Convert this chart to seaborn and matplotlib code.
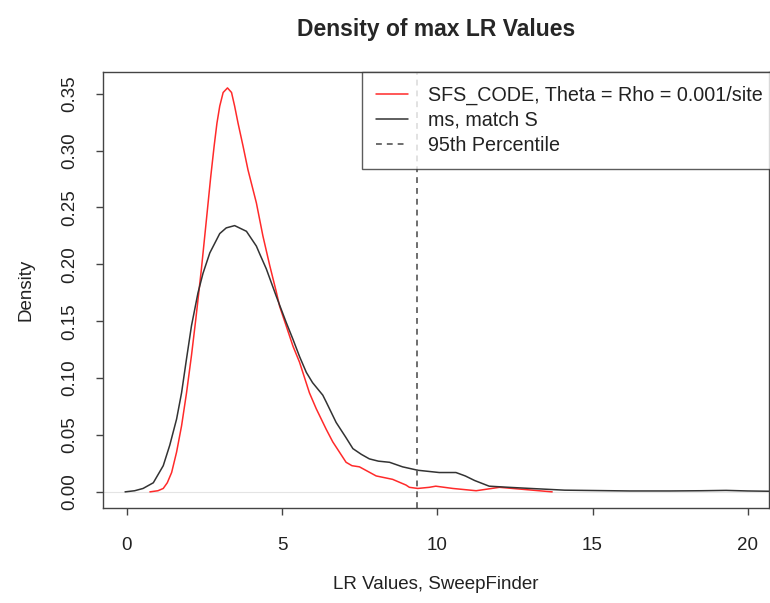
import matplotlib
matplotlib.use('Agg')
import matplotlib.pyplot as plt
from matplotlib.lines import Line2D
import seaborn as sns

# density curves
sfs_x = [0.74, 1.0, 1.17, 1.30, 1.44, 1.60, 1.76, 1.92, 2.08, 2.22, 2.40, 2.56, 2.70,
         2.81, 2.90, 2.99, 3.10, 3.24, 3.37, 3.47, 3.58, 3.74, 3.90, 4.17, 4.38, 4.49,
         4.60, 4.81, 4.92, 5.08, 5.35, 5.56, 5.88, 6.1, 6.42, 6.63, 7.06, 7.25, 7.49,
         8.03, 8.56, 8.99, 9.1, 9.37, 9.74, 9.95, 10.5, 11.25, 12.0, 13.7]
sfs_y = [0.000, 0.001, 0.003, 0.008, 0.017, 0.035, 0.058, 0.087, 0.120, 0.152, 0.196,
         0.239, 0.277, 0.304, 0.324, 0.339, 0.351, 0.355, 0.351, 0.339, 0.324, 0.304,
         0.283, 0.254, 0.225, 0.212, 0.199, 0.176, 0.163, 0.150, 0.128, 0.114, 0.087,
         0.073, 0.055, 0.044, 0.026, 0.023, 0.022, 0.014, 0.011, 0.006, 0.004, 0.003,
         0.004, 0.005, 0.003, 0.001, 0.004, 0.000]

ms_x = [-0.06, 0.25, 0.52, 0.85, 1.17, 1.38, 1.60, 1.76, 1.92, 2.08, 2.29, 2.45, 2.67,
        2.99, 3.20, 3.47, 3.85, 4.17, 4.28, 4.49, 4.81, 5.13, 5.35, 5.56, 5.78, 5.98,
        6.31, 6.42, 6.74, 7.05, 7.28, 7.55, 7.81, 8.10, 8.46, 8.88, 9.37, 10.06, 10.6,
        10.9, 11.2, 11.67, 12.3, 13.0, 14.1, 15.0, 16.2, 17.5, 18.5, 19.3, 20.0, 20.8]
ms_y = [0.000, 0.001, 0.003, 0.008, 0.023, 0.041, 0.064, 0.087, 0.117, 0.146, 0.175,
        0.192, 0.210, 0.227, 0.232, 0.234, 0.229, 0.216, 0.209, 0.196, 0.172, 0.149,
        0.134, 0.119, 0.105, 0.096, 0.085, 0.079, 0.061, 0.048, 0.038, 0.033, 0.029,
        0.027, 0.026, 0.022, 0.019, 0.017, 0.017, 0.014, 0.010, 0.005, 0.004, 0.003,
        0.0015, 0.0012, 0.0008, 0.0008, 0.0010, 0.0013, 0.0008, 0.0005]

percentile_95 = 9.36

x_ticks = [0, 5, 10, 15, 20]
y_ticks = [0.00, 0.05, 0.10, 0.15, 0.20, 0.25, 0.30, 0.35]

labels = ['SFS_CODE, Theta = Rho = 0.001/site', 'ms, match S', '95th Percentile']

sns.set_style('ticks')
plt.rcParams['font.family'] = ['Liberation Sans', 'DejaVu Sans']
plt.rcParams['font.size'] = 13.5

fig = plt.figure(figsize=(7.7, 6.03), dpi=100)
ax = fig.add_axes([0.1338, 0.1575, 0.8655, 0.7231])

ax.axhline(0, color='#e4e4e4', lw=0.8, zorder=1)
sns.lineplot(x=sfs_x, y=sfs_y, color='#ff2a2a', lw=1.1, estimator=None, sort=False, ax=ax)
sns.lineplot(x=ms_x, y=ms_y, color='#333333', lw=1.1, estimator=None, sort=False, ax=ax)
ax.axvline(percentile_95, color='#555555', lw=1.2, linestyle=(0, (3.5, 3.0)))

ax.set_xlim(-0.77, 20.7)
ax.set_ylim(-0.0142, 0.369)
ax.set_xticks(x_ticks)
ax.set_xticklabels([str(t) for t in x_ticks])
ax.set_yticks(y_ticks)
ax.set_yticklabels([f'{t:.2f}' for t in y_ticks], rotation=90, va='center')

for s in ax.spines.values():
    s.set_color('#444444')
    s.set_linewidth(1.0)
ax.tick_params(axis='both', length=5, width=1, color='#444444', labelsize=13.5,
               labelcolor='#222222')
ax.tick_params(axis='x', pad=16)
ax.tick_params(axis='y', pad=13)

ax.set_xlabel('LR Values, SweepFinder', fontsize=13.5, color='#222222', labelpad=16)
ax.set_ylabel('Density', fontsize=13.5, color='#222222', labelpad=19)
ax.set_title('Density of max LR Values', fontsize=16.5, fontweight='bold', pad=26)

handles = [Line2D([], [], color='#ff2a2a', lw=1.1),
           Line2D([], [], color='#333333', lw=1.1),
           Line2D([], [], color='#555555', lw=1.2, linestyle=(0, (3.5, 3.0)))]
leg = ax.legend(handles, labels, loc='upper left', bbox_to_anchor=(0.470, 0.8806),
                bbox_transform=fig.transFigure, fontsize=14.2, frameon=True,
                fancybox=False, borderpad=0.7, handlelength=1.65, handletextpad=1.0,
                labelspacing=0.3, borderaxespad=0)
leg.get_frame().set_edgecolor('#333333')
leg.get_frame().set_linewidth(1.0)
for t in leg.get_texts():
    t.set_color('#222222')

fig.savefig('out.png', dpi=100)
